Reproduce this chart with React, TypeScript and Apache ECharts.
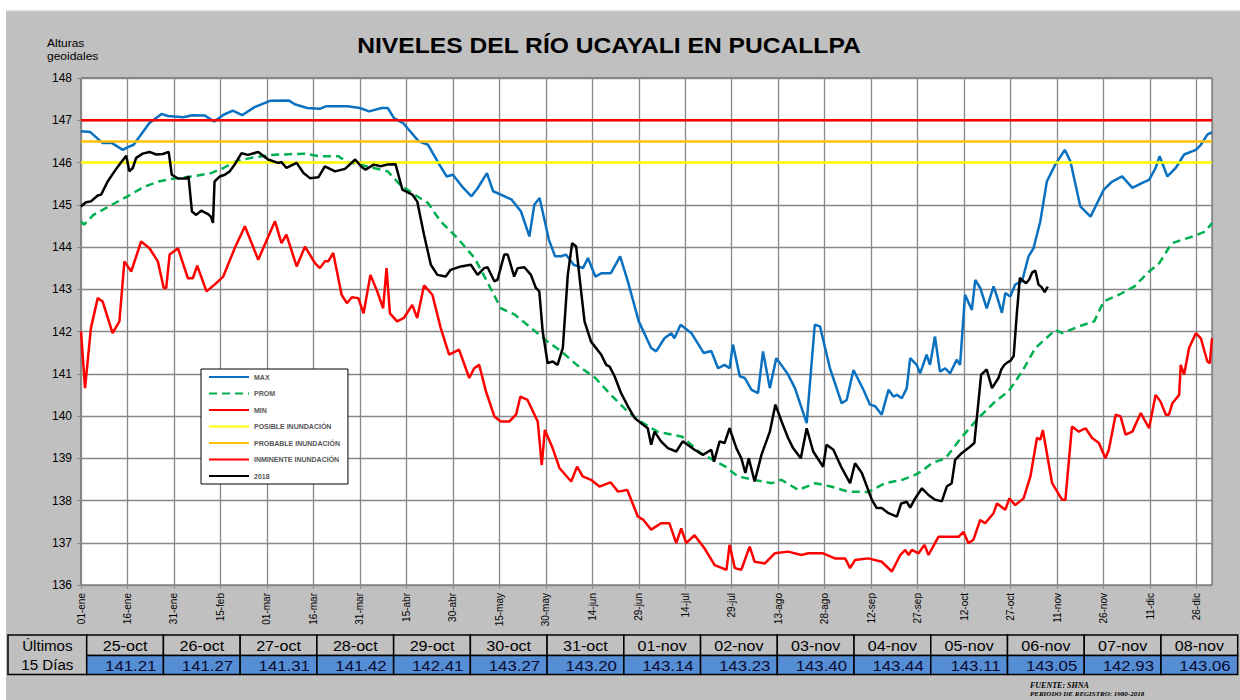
import React, { useEffect, useRef } from "react";
import * as echarts from "echarts";

// ---------- data ----------
const X_TICKS = ["01-ene","16-ene","31-ene","15-feb","01-mar","16-mar","31-mar","15-abr","30-abr","15-may","30-may","14-jun","29-jun","14-jul","29-jul","13-ago","28-ago","12-sep","27-sep","12-oct","27-oct","11-nov","26-nov","11-dic","26-dic"];
const DAY_STEP = 15;
const LAST_DAY = 365;
const Y_MIN = 136;
const Y_MAX = 148;

const POSIBLE = 146;
const PROBABLE = 146.5;
const INMINENTE = 147;

const MAX: [number, number][] = [
  [0,146.74],[3,146.72],[7,146.46],[10,146.46],[13.5,146.3],[15,146.36],[17,146.42],[22,146.93],[26,147.15],[28,147.1],
  [33,147.07],[36,147.12],[40,147.11],[43,146.97],[46,147.13],[49,147.23],[52,147.12],[56,147.31],[61,147.46],[67,147.47],
  [69,147.38],[73,147.29],[77,147.27],[79,147.33],[86,147.33],[90,147.29],[93,147.21],[97,147.29],[99,147.29],[101,147.05],
  [104,146.93],[109,146.5],[112,146.42],[116,145.91],[118,145.67],[120,145.71],[123,145.43],[126,145.2],[128,145.39],[131,145.75],
  [133,145.32],[135.5,145.24],[139,145.12],[142,144.84],[144.7,144.25],[146.3,145.0],[148,145.16],[151,144.17],[153,143.78],[155,143.78],
  [156.5,143.82],[159,143.58],[162,143.5],[163.6,143.74],[166,143.3],[168,143.38],[171,143.38],[174,143.78],[176.5,143.18],[180,142.24],
  [184,141.61],[185.6,141.53],[188.3,141.84],[190.5,141.96],[191.5,141.84],[193.5,142.16],[197,141.96],[201,141.49],[203.4,141.54],[205.6,141.13],
  [207.7,141.21],[209.3,141.13],[210.4,141.69],[212.6,140.94],[214.2,140.9],[216.4,140.62],[218.5,140.54],[220.1,141.53],[222.3,140.66],[224.4,141.37],
  [228.2,140.98],[230.4,140.66],[234.2,139.83],[236.8,142.16],[238.5,142.12],[241.7,141.13],[245.5,140.3],[247.1,140.38],[249.3,141.09],[252.5,140.62],
  [254.6,140.27],[256.3,140.23],[258.4,140.03],[260.6,140.62],[262.2,140.46],[263.3,140.5],[264.9,140.42],[266.5,140.66],[267.6,141.37],[269.7,141.21],
  [270.8,141.01],[272.9,141.45],[274,141.21],[275.6,141.88],[277.2,141.05],[278.9,141.13],[280.5,141.01],[282.6,141.33],[283.7,141.21],[285.3,142.87],
  [287.5,142.51],[288.6,143.22],[290.2,143.03],[292.3,142.55],[294.5,143.07],[295.6,142.83],[297.2,142.44],[298.3,142.91],[299.9,142.83],[301.5,143.11],
  [303.7,143.19],[305.8,143.78],[307.4,143.97],[309.6,144.61],[311.7,145.55],[314.4,145.95],[317.5,146.3],[319.3,146.03],[322.5,144.96],[325.8,144.72],
  [330.1,145.36],[332.8,145.55],[336,145.67],[339.3,145.4],[342.5,145.52],[344.7,145.59],[346.8,145.87],[348.1,146.15],[350.6,145.67],[353.3,145.87],
  [356,146.19],[359.8,146.3],[361.4,146.42],[363.5,146.66],[365,146.72]
];

const PROM: [number, number][] = [
  [0,144.61],[1,144.53],[4,144.76],[10,145.0],[15,145.2],[20.5,145.43],[25,145.55],[30,145.62],[36,145.67],[42,145.75],
  [46,145.87],[50,146.03],[55,146.11],[61.5,146.18],[72,146.21],[77,146.15],[83,146.15],[86,146.01],[90,145.95],[94.5,145.87],
  [99,145.79],[103,145.47],[108.5,145.2],[112,145.04],[116,144.61],[121.5,144.21],[127,143.74],[131,143.19],[135.5,142.55],[140,142.4],
  [144,142.16],[150.6,141.76],[155,141.53],[160,141.21],[166,140.9],[171,140.5],[176.5,140.1],[181,139.85],[186,139.63],[194,139.51],
  [200,139.12],[208,138.8],[212,138.57],[217,138.49],[223,138.41],[226,138.49],[231.5,138.25],[237,138.41],[242,138.33],[247.6,138.21],
  [254,138.2],[259.5,138.41],[265,138.49],[269,138.6],[271.3,138.69],[274.5,138.88],[279,139.0],[284,139.48],[289.6,139.95],[295,140.34],
  [299.3,140.58],[303.7,141.05],[308,141.61],[314.5,142.04],[316.6,141.96],[322,142.12],[327,142.24],[330,142.71],[335,142.87],[340,143.07],
  [344.7,143.42],[348,143.62],[352,144.09],[358.7,144.25],[363,144.37],[365,144.57]
];

const MIN: [number, number][] = [
  [0,142.0],[1.3,140.66],[3.2,142.08],[5.4,142.79],[7,142.71],[10.2,141.96],[12.4,142.24],[14,143.66],[16.2,143.42],[19.4,144.13],
  [22.1,143.97],[24.8,143.66],[26.7,143.03],[27.5,143.03],[28.6,143.82],[31.3,143.97],[34.5,143.26],[36.1,143.26],[37.5,143.56],[40.5,142.95],
  [43.1,143.11],[45.9,143.3],[49.6,143.97],[52.9,144.49],[57.2,143.7],[62.6,144.61],[64.7,144.09],[66.3,144.29],[69.6,143.54],[72.3,144.01],
  [75.5,143.62],[77.1,143.5],[78.7,143.66],[79.8,143.66],[81.4,143.86],[84.1,142.87],[85.8,142.67],[87.4,142.81],[89.5,142.79],[91.2,142.43],
  [93.4,143.34],[95.6,142.95],[97.5,142.55],[98.6,143.5],[99.7,142.43],[102,142.24],[104.2,142.32],[106.9,142.63],[108.5,142.32],[110.7,143.09],
  [113.4,142.87],[116.1,142.08],[118.8,141.45],[122,141.57],[125.3,140.9],[126.9,141.13],[128.5,141.21],[130.7,140.58],[133.4,139.99],[135.5,139.87],
  [138.2,139.87],[140.4,140.03],[141.8,140.46],[144.1,140.38],[147.4,139.87],[148.7,138.84],[149.7,139.67],[152.2,139.24],[154.4,138.77],[158.2,138.45],
  [160.1,138.8],[161.9,138.57],[164.6,138.49],[167.3,138.33],[170.9,138.43],[173.3,138.21],[176.3,138.25],[179.7,137.62],[181.5,137.54],[184,137.31],
  [187.2,137.46],[189.9,137.46],[192.1,136.99],[193.7,137.34],[195.3,136.99],[198,137.18],[201.2,136.87],[204.5,136.47],[208.3,136.36],[209.3,136.95],
  [211,136.4],[213.1,136.36],[215.8,136.91],[217.4,136.55],[220.7,136.51],[223.9,136.75],[228.2,136.79],[232.5,136.71],[234.7,136.75],[239.5,136.75],
  [243.3,136.63],[246.6,136.63],[248.2,136.4],[249.8,136.59],[254.1,136.63],[258.4,136.55],[261.7,136.32],[264.4,136.71],[266,136.83],[267.1,136.71],
  [268.1,136.83],[270.3,136.75],[272.2,136.95],[273.5,136.71],[276.7,137.14],[280,137.14],[283.2,137.14],[284.8,137.26],[286.4,136.99],[288,137.07],
  [290.2,137.54],[291.8,137.46],[294.5,137.7],[295.6,137.93],[298.3,137.78],[299.6,138.05],[301.5,137.89],[304.2,138.05],[306.4,138.57],[308.5,139.48],
  [309.6,139.44],[310.4,139.67],[313.4,138.41],[316.6,138.02],[317.7,138.02],[319.8,139.75],[322,139.63],[324.2,139.71],[326.3,139.48],[328.5,139.36],
  [330.6,139.0],[331.7,139.2],[333.9,140.03],[335.5,139.99],[337.1,139.56],[339.3,139.63],[342,140.07],[344.7,139.71],[346.8,140.5],[348.4,140.34],
  [350.1,140.03],[351.1,140.03],[352.2,140.3],[354.4,140.5],[354.9,141.21],[356,140.98],[357.6,141.61],[359.8,141.96],[361.4,141.84],[363.5,141.29],
  [364.3,141.25],[365,141.84]
];

const Y2018_EARLY: [number, number][] = [
  [0,144.96],[1.6,145.06],[3.2,145.08],[5.4,145.22],[6.5,145.24],[8.6,145.55],[10.8,145.79],[12.4,145.95],[14.6,146.16],[15.6,145.79],
  [16.7,145.87],[17.8,146.11],[19.9,146.21],[22.1,146.25],[24.3,146.19],[26.4,146.2],[28.3,146.25],[29.3,145.71],[31.3,145.62],[34,145.62],
  [34.7,145.67],[35.8,144.84],[37.2,144.76],[38.8,144.86],[41,144.78],[41.9,144.72],[42.6,144.57],[43.1,145.55],[44.8,145.67],[46.4,145.71],
  [48,145.79],[49.6,145.95],[51.8,146.22],[53.9,146.18],[57.2,146.25],[60.4,146.07],[63.6,145.99],[64.7,146.01],[66.3,145.87],[69.6,145.99],
  [71.8,145.75],[73.9,145.63],[76.6,145.65],[78.7,145.91],[82,145.79],[85.2,145.85],[88.5,146.07],[90.5,145.9],[91.8,145.83],[94.5,145.95],
  [96.7,145.91],[98.8,145.95],[101.5,145.96],[103.7,145.36],[106.9,145.24],[108.5,145.08],[110.7,144.29],[112.9,143.58],[115,143.34],[117.7,143.3],
  [119.3,143.46],[122.6,143.54],[125.8,143.58],[128,143.34],[130.1,143.5],[131.2,143.52],[133.4,143.19],[134.4,143.22],[136.6,143.82],[137.7,143.82],
  [139.8,143.3],[140.9,143.5],[143.1,143.52],[145.2,143.34],[146.8,143.03],[147.9,142.95],[149,142.0],[150.6,141.25],[152.2,141.29],[153.8,141.21],
  [155.5,141.61],[157.1,143.34],[158.5,144.09],[159.8,144.01],[161.4,142.95],[162.5,142.24],[164.6,141.76],[167.9,141.45],[169.5,141.21],[170.6,141.17],
  [172.2,140.94],[174.3,140.54],[176.5,140.23],[178.7,139.95],[180.8,139.83],[182.9,139.71],[184,139.32],[185.1,139.63],[187.2,139.4],[189.4,139.24],
  [192.1,139.16],[194.2,139.4],[198,139.2],[200.7,139.08],[203.4,139.2],[204.3,138.92],[206.1,139.4],[207.7,139.36],[209.3,139.71],[211.5,139.24],
  [213.1,139.0],[214.4,138.65],[215.5,139.0],[217.4,138.45],[219.6,139.08],[222.3,139.63],[224.1,140.27],[226.1,139.87],[228.2,139.48],[229.8,139.24],
  [232.3,139.0],[234.2,139.71],[236.3,139.16],[239.5,138.8],[240.6,139.32],[242.8,139.2],[245.5,138.77],[248.2,138.41],[249.8,138.88],[252,138.65],
  [255.2,138.02],[256.8,137.82],[258.4,137.82],[260.6,137.7],[263.3,137.62],[264.7,137.93],[266.5,137.97],[267.6,137.83],[269.2,138.05],[271.4,138.29],
  [273.5,138.13],[275.6,138.02],[277.8,137.98],[279.4,138.33],[281,138.41],[282.1,138.96],[284.2,139.12],[286.4,139.24],[288.3,139.36],[289.1,139.95],
  [290.5,140.98],[292.3,141.1],[294,140.66],[296.1,140.9],[297,141.1]
];

// Last 15 days table (also the tail of the 2018 series)
const TABLE_FIRST_DAY = 298;
const TABLE_DATES = ["25-oct","26-oct","27-oct","28-oct","29-oct","30-oct","31-oct","01-nov","02-nov","03-nov","04-nov","05-nov","06-nov","07-nov","08-nov"];
const TABLE_VALUES = [141.21,141.27,141.31,141.42,142.41,143.27,143.20,143.14,143.23,143.40,143.44,143.11,143.05,142.93,143.06];

const Y2018: [number, number][] = [
  ...Y2018_EARLY,
  ...TABLE_VALUES.map((v, i) => [TABLE_FIRST_DAY + i, v] as [number, number]),
];

const TITLE = "NIVELES DEL RÍO UCAYALI EN PUCALLPA";

// ---------- chart ----------
const FONT = "Liberation Sans, Arial, sans-serif";
const BG = "#c0c0c0";

function buildTable(): any[] {
  const els: any[] = [];
  const top = 635, mid = 655.5, bottom = 674.5;
  const firstLeft = 8, firstRight = 86.7;
  const colW = (1237.7 - firstRight) / TABLE_DATES.length;
  els.push({
    type: "rect", shape: { x: firstLeft, y: top, width: firstRight - firstLeft, height: bottom - top },
    style: { fill: BG, stroke: "#000", lineWidth: 1.5 }, z: 10,
  });
  els.push({ type: "text", x: (firstLeft + firstRight) / 2, y: (top + mid) / 2 + 0.5, scaleX: 1.08, z: 11,
    style: { text: "Últimos", fill: "#000", fontSize: 14, fontFamily: FONT, align: "center", verticalAlign: "middle" } });
  els.push({ type: "text", x: (firstLeft + firstRight) / 2, y: (mid + bottom) / 2 + 0.5, scaleX: 1.08, z: 11,
    style: { text: "15 Días", fill: "#000", fontSize: 14, fontFamily: FONT, align: "center", verticalAlign: "middle" } });
  TABLE_DATES.forEach((d, i) => {
    const x0 = firstRight + i * colW;
    els.push({ type: "rect", shape: { x: x0, y: top, width: colW, height: mid - top },
      style: { fill: BG, stroke: "#000", lineWidth: 1.5 }, z: 10 });
    els.push({ type: "rect", shape: { x: x0, y: mid, width: colW, height: bottom - mid },
      style: { fill: "#558ED5", stroke: "#000", lineWidth: 1.5 }, z: 10 });
    els.push({ type: "text", x: x0 + colW / 2, y: (top + mid) / 2 + 0.5, scaleX: 1.15, z: 11,
      style: { text: d, fill: "#000", fontSize: 14, fontFamily: FONT, align: "center", verticalAlign: "middle" } });
    els.push({ type: "text", x: x0 + colW - 7, y: (mid + bottom) / 2 + 1, scaleX: 1.12, z: 11,
      style: { text: TABLE_VALUES[i].toFixed(2), fill: "#0a0a30", fontSize: 15, fontFamily: FONT, align: "right", verticalAlign: "middle" } });
  });
  return els;
}

export default function App() {
  const ref = useRef<HTMLDivElement>(null);
  useEffect(() => {
    if (!ref.current) return;
    const chart = echarts.init(ref.current, undefined, { renderer: "svg" });
    const flat = (v: number): [number, number][] => [[0, v], [LAST_DAY, v]];
    const base = { type: "line", symbol: "none", showSymbol: false, silent: true };
    const option: any = {
      animation: false,
      backgroundColor: BG,
      textStyle: { fontFamily: FONT },
      grid: {
        left: 81, right: 28, top: 78, bottom: 115, show: true,
        backgroundColor: "#fff", borderColor: "#444", borderWidth: 1,
      },
      legend: {
        orient: "vertical", left: 201, top: 369, itemWidth: 40, itemHeight: 10, itemGap: 8.5,
        backgroundColor: "#fff", borderColor: "#000", borderWidth: 1, padding: [4, 8, 4, 7],
        selectedMode: false,
        itemStyle: { opacity: 0 },
        textStyle: { fontSize: 7, fontWeight: "bold", color: "#555", fontFamily: FONT },
        data: ["MAX", "PROM", "MIN", "POSIBLE INUNDACIÓN", "PROBABLE INUNDACIÓN", "INMINENTE INUNDACIÓN", "2018"],
      },
      xAxis: {
        type: "value", min: 0, max: LAST_DAY, interval: DAY_STEP,
        axisLine: { show: true, lineStyle: { color: "#888" } },
        axisTick: { show: true, length: 4, lineStyle: { color: "#888" } },
        splitLine: { show: true, lineStyle: { color: "#888", width: 1.3 } },
        axisLabel: {
          rotate: 90, fontSize: 10, color: "#000", margin: 8, fontFamily: FONT,
          showMaxLabel: false,
          formatter: (v: number) => (v % DAY_STEP === 0 ? X_TICKS[v / DAY_STEP] || "" : ""),
        },
      },
      yAxis: {
        type: "value", min: Y_MIN, max: Y_MAX, interval: 1,
        axisLine: { show: true, lineStyle: { color: "#888" } },
        axisTick: { show: true, length: 4, lineStyle: { color: "#888" } },
        splitLine: { show: true, lineStyle: { color: "#888", width: 1.3 } },
        axisLabel: { fontSize: 12, color: "#000", margin: 9, fontFamily: FONT },
      },
      series: [
        { ...base, name: "MAX", data: MAX, lineStyle: { color: "#0A70C0", width: 2.5 }, itemStyle: { color: "#0A70C0" } },
        { ...base, name: "PROM", data: PROM, lineStyle: { color: "#00B050", width: 2.5, type: [8, 5] }, itemStyle: { color: "#00B050" } },
        { ...base, name: "MIN", data: MIN, lineStyle: { color: "#FF0000", width: 2.5 }, itemStyle: { color: "#FF0000" } },
        { ...base, name: "POSIBLE INUNDACIÓN", data: flat(POSIBLE), lineStyle: { color: "#FFFF00", width: 2.5 }, itemStyle: { color: "#FFFF00" } },
        { ...base, name: "PROBABLE INUNDACIÓN", data: flat(PROBABLE), lineStyle: { color: "#FFC000", width: 2.5 }, itemStyle: { color: "#FFC000" } },
        { ...base, name: "INMINENTE INUNDACIÓN", data: flat(INMINENTE), lineStyle: { color: "#FF0000", width: 2.5 }, itemStyle: { color: "#FF0000" } },
        { ...base, name: "2018", data: Y2018, lineStyle: { color: "#000", width: 2.5 }, itemStyle: { color: "#000" } },
      ],
      graphic: {
        elements: [
          { type: "rect", shape: { x: 0, y: 0, width: 1240, height: 10 }, style: { fill: "#fff" }, z: 20, silent: true },
          { type: "rect", shape: { x: 0, y: 0, width: 6, height: 700 }, style: { fill: "#fff" }, z: 20, silent: true },
          { type: "rect", shape: { x: 6, y: 10, width: 1234, height: 1.5 }, style: { fill: "#dcdcdc" }, z: 20, silent: true },
          { type: "text", x: 609, y: 45, scaleX: 1.12, z: 20,
            style: { text: TITLE, fill: "#000", fontSize: 22, fontWeight: "bold", fontFamily: FONT, align: "center", verticalAlign: "middle" } },
          { type: "text", x: 47, y: 37, scaleX: 1.2, z: 20,
            style: { text: "Alturas\ngeoidales", fill: "#000", fontSize: 10, lineHeight: 13, fontFamily: FONT, align: "left", verticalAlign: "top" } },
          { type: "text", x: 1030, y: 681, z: 20,
            style: { text: "FUENTE: SHNA", fill: "#000", fontSize: 8, fontWeight: "bold", fontStyle: "italic", fontFamily: "Liberation Serif, serif", align: "left", verticalAlign: "top" } },
          { type: "text", x: 1030, y: 690, z: 20,
            style: { text: "PERIODO DE REGISTRO: 1980-2018", fill: "#000", fontSize: 7, fontWeight: "bold", fontStyle: "italic", fontFamily: "Liberation Serif, serif", align: "left", verticalAlign: "top" } },
          ...buildTable(),
        ],
      },
    };
    chart.setOption(option);
    return () => chart.dispose();
  }, []);
  return <div ref={ref} style={{ position: "absolute", left: 0, top: 0, width: 1240, height: 700 }} />;
}
